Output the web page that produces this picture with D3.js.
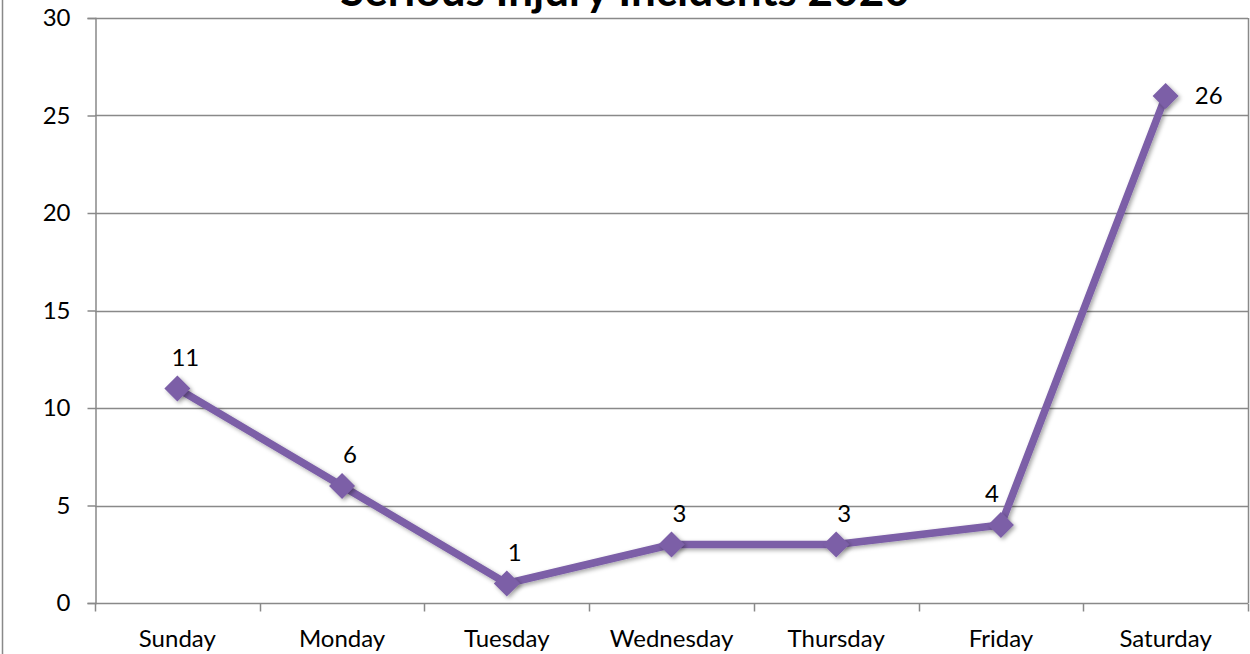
<!DOCTYPE html>
<html><head><meta charset="utf-8">
<script src="https://cdn.jsdelivr.net/npm/d3@7"></script>
<style>
html,body{margin:0;padding:0;background:#fff;}
svg{display:block;font-family:Lato,"Open Sans",sans-serif;}
</style></head>
<body>
<svg id="chart" width="1250" height="654"></svg>
<script>
const title = "Serious Injury Incidents 2020";
const categories = ["Sunday","Monday","Tuesday","Wednesday","Thursday","Friday","Saturday"];
const values = [11, 6, 1, 3, 3, 4, 26];
const yTicks = [0, 5, 10, 15, 20, 25, 30];

const svg = d3.select("#chart");
const W = 1250, H = 654;
const m = {left: 95, right: 2, top: 18, bottom: 51};
const x = d3.scaleBand().domain(categories).range([m.left, W - m.right]);
const y = d3.scaleLinear().domain([0, 30]).range([H - m.bottom, m.top]);
const grid = "#898989";
const purple = "#7b5ea7";
const fs = 24;

// chart border (left)
svg.append("line").attr("x1", 2.5).attr("x2", 2.5).attr("y1", 0).attr("y2", H)
  .attr("stroke", grid).attr("stroke-width", 1.5);

// gridlines
svg.append("g").selectAll("line").data(yTicks.filter(d => d > 0)).join("line")
  .attr("x1", m.left).attr("x2", W - m.right)
  .attr("y1", d => Math.round(y(d)) + 0.5).attr("y2", d => Math.round(y(d)) + 0.5)
  .attr("stroke", grid).attr("stroke-width", 1.5);

// right plot border
svg.append("line").attr("x1", W - m.right + 0.5).attr("x2", W - m.right + 0.5)
  .attr("y1", y(30)).attr("y2", y(0)).attr("stroke", grid).attr("stroke-width", 1.5);

// y axis
const yAxis = d3.axisLeft(y).tickValues(yTicks).tickSize(8).tickPadding(17).tickFormat(d3.format("d"));
const gy = svg.append("g").attr("transform", `translate(${m.left + 0.5},0)`).call(yAxis);
gy.selectAll("path,line").attr("stroke", grid).attr("stroke-width", 1.5);
gy.selectAll("text").attr("font-size", fs).attr("fill", "#000").attr("font-family", "Lato");

// x axis
const gx = svg.append("g").attr("transform", `translate(0,${Math.round(y(0)) + 0.5})`);
gx.append("line").attr("x1", m.left).attr("x2", W - m.right).attr("stroke", grid).attr("stroke-width", 1.5);
const edges = categories.map(c => x(c)).concat([x(categories[categories.length - 1]) + x.bandwidth()]);
gx.selectAll("line.tick").data(edges).join("line").attr("class", "tick")
  .attr("x1", d => Math.round(d) + 0.5).attr("x2", d => Math.round(d) + 0.5)
  .attr("y1", 0).attr("y2", 8).attr("stroke", grid).attr("stroke-width", 1.5);
gx.selectAll("text").data(categories).join("text")
  .attr("x", d => x(d) + x.bandwidth() / 2).attr("y", 43)
  .attr("text-anchor", "middle").attr("font-size", fs).attr("fill", "#000").text(d => d);

// shadow filter
const defs = svg.append("defs");
const f = defs.append("filter").attr("id", "sh").attr("x", "-50%").attr("y", "-50%").attr("width", "200%").attr("height", "200%");
f.append("feDropShadow").attr("dx", 2).attr("dy", 2).attr("stdDeviation", 2).attr("flood-color", "#000").attr("flood-opacity", 0.35);

const cx = d => x(d) + x.bandwidth() / 2;
const pts = categories.map((c, i) => [cx(c), y(values[i])]);

svg.append("path").datum(pts).attr("d", d3.line())
  .attr("fill", "none").attr("stroke", purple).attr("stroke-width", 7.5)
  .attr("stroke-linejoin", "round").attr("filter", "url(#sh)");

svg.append("g").selectAll("path").data(pts).join("path")
  .attr("transform", d => `translate(${d[0]},${d[1]})`)
  .attr("d", "M0,-13L13,0L0,13L-13,0Z")
  .attr("fill", purple).attr("filter", "url(#sh)");

// data labels
svg.append("g").selectAll("text").data(values).join("text")
  .attr("x", (v, i) => i === values.length - 1 ? pts[i][0] + 43 : pts[i][0] + (i === 5 ? -9 : 8))
  .attr("y", (v, i) => i === values.length - 1 ? pts[i][1] + 8 : pts[i][1] - 23)
  .attr("text-anchor", "middle").attr("font-size", fs).attr("fill", "#000")
  .text(v => v);

// title
svg.append("text").attr("x", 625).attr("y", 6).attr("text-anchor", "middle")
  .attr("font-size", 44).attr("font-weight", "bold").attr("fill", "#000").text(title);
</script>
</body></html>
